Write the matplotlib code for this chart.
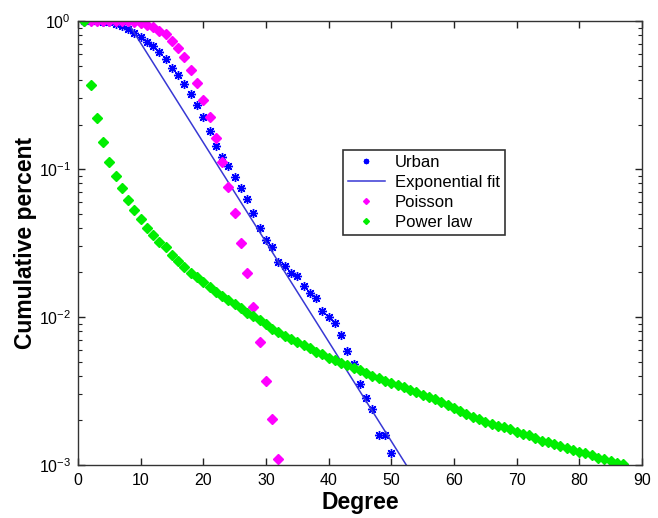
import matplotlib
matplotlib.use('Agg')
import matplotlib.pyplot as plt
from matplotlib.ticker import LogLocator, FixedLocator, NullFormatter
import numpy as np

plt.rcParams['font.family'] = ['Liberation Sans', 'DejaVu Sans']
plt.rcParams['mathtext.fontset'] = 'custom'
plt.rcParams['mathtext.rm'] = 'Liberation Sans:bold'
plt.rcParams['mathtext.bf'] = 'Liberation Sans:bold'
plt.rcParams['mathtext.default'] = 'bf'

# urban network, degrees 1..50, values read as log10(cumulative percent)
urban_deg = list(range(1, 51))
urban_log10 = [0, 0, 0, -0.003, -0.008, -0.018, -0.033, -0.052, -0.078, -0.105,
               -0.138, -0.17, -0.21, -0.257, -0.318, -0.365, -0.426, -0.49, -0.57, -0.65,
               -0.74, -0.845, -0.92, -0.98, -1.054, -1.128, -1.2, -1.297, -1.4, -1.48,
               -1.527, -1.628, -1.655, -1.70, -1.72, -1.79, -1.84, -1.87, -1.96, -2.0,
               -2.04, -2.12, -2.23, -2.32, -2.45, -2.55, -2.62, -2.80, -2.80, -2.92]

# exponential fit (straight line on log axis)
fit_deg = [7.8, 52.4]
fit_val = [1.0, 1e-3]

# poisson, degrees 1..32
poisson_deg = list(range(1, 33))
poisson_log10 = [0, 0, 0, 0, 0, 0, 0, -0.002, -0.005, -0.012,
                 -0.025, -0.042, -0.065, -0.09, -0.135, -0.18, -0.24, -0.33, -0.42, -0.53,
                 -0.65, -0.79, -0.95, -1.12, -1.30, -1.50, -1.70, -1.93, -2.17, -2.43,
                 -2.69, -2.96]

# power law, degrees 1..87
power_deg = list(range(1, 88))
power_log10 = [0, -0.43, -0.655, -0.82, -0.95, -1.05, -1.13, -1.21, -1.28, -1.34,
               -1.40, -1.445, -1.49, -1.53, -1.58, -1.62, -1.66, -1.70, -1.73, -1.76,
               -1.80, -1.83, -1.86, -1.885, -1.91, -1.94, -1.97, -1.995, -2.02, -2.05,
               -2.08, -2.10, -2.125, -2.15, -2.17, -2.19, -2.21, -2.235, -2.25, -2.275,
               -2.29, -2.31, -2.325, -2.345, -2.36, -2.38, -2.40, -2.41, -2.43, -2.445,
               -2.46, -2.475, -2.49, -2.505, -2.525, -2.54, -2.555, -2.575, -2.595, -2.615,
               -2.635, -2.655, -2.675, -2.69, -2.71, -2.72, -2.735, -2.745, -2.76, -2.775,
               -2.79, -2.80, -2.82, -2.835, -2.845, -2.86, -2.87, -2.885, -2.90, -2.91,
               -2.92, -2.935, -2.95, -2.96, -2.97, -2.985, -2.995]

x_ticks = [0, 10, 20, 30, 40, 50, 60, 70, 80, 90]

fig = plt.figure(figsize=(6.58, 5.18), dpi=100)
ax = fig.add_axes([0.1185, 0.1023, 0.857, 0.857])

ax.plot(urban_deg, 10 ** np.array(urban_log10), linestyle='none', marker=(8, 2, 0),
        markersize=6.5, markeredgewidth=1.0, color='#0000ff', label='Urban')
ax.plot(fit_deg, fit_val, '-', color='#3838d4', linewidth=1.1, label='Exponential fit')
ax.plot(poisson_deg, 10 ** np.array(poisson_log10), linestyle='none', marker='D',
        markersize=5, color='#ff00ff', label='Poisson')
ax.plot(power_deg, 10 ** np.array(power_log10), linestyle='none', marker='D',
        markersize=5, color='#00ee00', label='Power law')

ax.set_yscale('log')
ax.set_xlim(0, 90)
ax.set_ylim(1e-3, 1)
ax.xaxis.set_major_locator(FixedLocator(x_ticks))
ax.yaxis.set_major_locator(LogLocator(base=10, numticks=10))
ax.yaxis.set_minor_locator(LogLocator(base=10, subs=np.arange(2, 10), numticks=10))
ax.yaxis.set_minor_formatter(NullFormatter())

ax.tick_params(which='both', direction='in', top=True, right=True, colors='#222222',
               labelcolor='black', labelsize=11.5)
ax.tick_params(which='major', length=5, width=1)
ax.tick_params(which='minor', length=3, width=0.8)
ax.tick_params(axis='y', pad=5)
ax.tick_params(axis='x', pad=6)
for s in ax.spines.values():
    s.set_color('#333333')
    s.set_linewidth(1)

ax.set_xlabel('Degree', fontsize=16.5, fontweight='bold', labelpad=2)
ax.set_ylabel('Cumulative percent', fontsize=16.5, fontweight='bold', labelpad=1)

leg = ax.legend(loc='upper left', bbox_to_anchor=(0.47, 0.709), borderaxespad=0,
                fontsize=12, frameon=True, fancybox=False, edgecolor='black',
                handlelength=2.2, handletextpad=0.6, labelspacing=0.3,
                borderpad=0.3, markerscale=0.6)
leg.get_frame().set_linewidth(1.2)

fig.savefig('out.png', dpi=100, facecolor='white')
